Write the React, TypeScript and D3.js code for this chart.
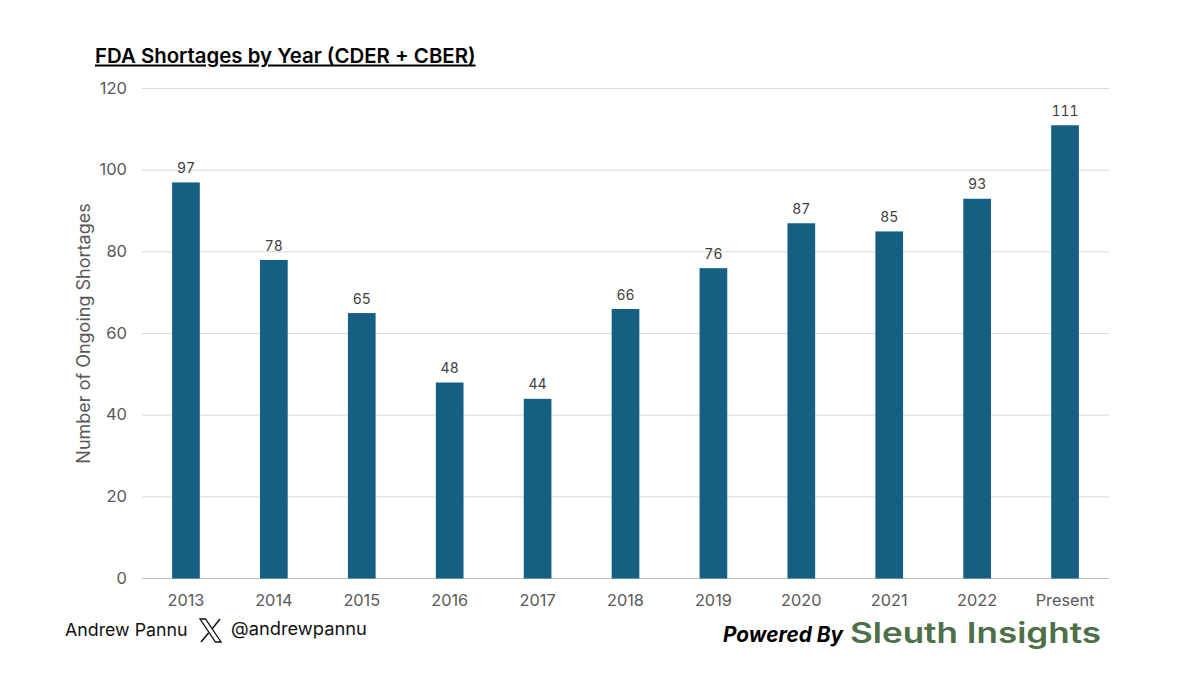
import * as d3 from "d3";

const categories = ["2013", "2014", "2015", "2016", "2017", "2018", "2019", "2020", "2021", "2022", "Present"];
const shortages = [97, 78, 65, 48, 44, 66, 76, 87, 85, 93, 111];
const yTicks = [0, 20, 40, 60, 80, 100, 120];

const width = 1200;
const height = 675;
const margin = { top: 88.5, right: 91, bottom: 96.5, left: 142 };
const font = "Inter, 'Open Sans', sans-serif";
const tickColor = "#595959";

export default function App() {
  const innerWidth = width - margin.left - margin.right;
  const innerHeight = height - margin.top - margin.bottom;

  const xScale = d3.scaleBand().domain(categories).range([0, innerWidth]).paddingInner(0.685).paddingOuter(0.3425);
  const yScale = d3.scaleLinear().domain([0, 120]).range([innerHeight, 0]);

  return (
    <svg
      width={width}
      height={height}
      style={{ position: "absolute", left: 0, top: 0, background: "#fff" }}
      fontFamily={font}
    >
      {/* Title */}
      <text x={95} y={62.5} fontSize={20.4} fontWeight={600} fill="#000" textDecoration="underline">
        FDA Shortages by Year (CDER + CBER)
      </text>

      <g transform={`translate(${margin.left}, ${margin.top})`}>
        {/* Grid lines */}
        {yTicks.map((tick) => (
          <line
            key={tick}
            x1={0}
            x2={innerWidth}
            y1={yScale(tick)}
            y2={yScale(tick)}
            stroke={tick === 0 ? "#bfbfbf" : "#d9d9d9"}
            strokeWidth={1}
          />
        ))}

        {/* Y-axis labels */}
        {yTicks.map((tick) => (
          <text
            key={tick}
            x={-15}
            y={yScale(tick) + 0.7}
            textAnchor="end"
            dominantBaseline="middle"
            fontSize={16.5}
            fill={tickColor}
          >
            {tick}
          </text>
        ))}

        {/* Bars */}
        {categories.map((cat, i) => (
          <rect
            key={cat}
            x={xScale(cat)}
            y={yScale(shortages[i])}
            width={xScale.bandwidth()}
            height={innerHeight - yScale(shortages[i])}
            fill="#156082"
          />
        ))}

        {/* Value labels */}
        {categories.map((cat, i) => (
          <text
            key={cat}
            x={(xScale(cat) || 0) + xScale.bandwidth() / 2}
            y={yScale(shortages[i]) - 9.5}
            textAnchor="middle"
            fontSize={14}
            fill="#404040"
            style={{ fontVariantNumeric: "tabular-nums" }}
          >
            {shortages[i]}
          </text>
        ))}

        {/* X-axis labels */}
        {categories.map((cat) => (
          <text
            key={cat}
            x={(xScale(cat) || 0) + xScale.bandwidth() / 2}
            y={innerHeight + 27.5}
            textAnchor="middle"
            fontSize={16.3}
            fill={tickColor}
          >
            {cat}
          </text>
        ))}
      </g>

      <text
        transform={`translate(89.5, ${margin.top + innerHeight / 2}) rotate(-90)`}
        textAnchor="middle"
        fontSize={18}
        fill={tickColor}
      >
        Number of Ongoing Shortages
      </text>

      {/* Footer */}
      <text x={65} y={636} fontSize={17.8} fill="#111">
        Andrew Pannu
      </text>
      <g transform="translate(199, 618)" fill="none" stroke="#111">
        <path d="M1 1 L6.5 1 L22 24 L16.5 24 Z" strokeWidth={1.3} />
        <path d="M21 1 L13 11 M9.5 15 L2 24" strokeWidth={1.5} />
      </g>
      <text x={231} y={635} fontSize={18.3} fill="#111">
        @andrewpannu
      </text>

      <text x={723} y={642} fontSize={20.8} fontWeight={700} fontStyle="italic" fill="#000">
        Powered By
      </text>
      <text
        x={850}
        y={643}
        fontSize={28}
        fontWeight={600}
        fill="#4d7048"
        textLength={251}
        lengthAdjust="spacingAndGlyphs"
      >
        Sleuth Insights
      </text>
    </svg>
  );
}
